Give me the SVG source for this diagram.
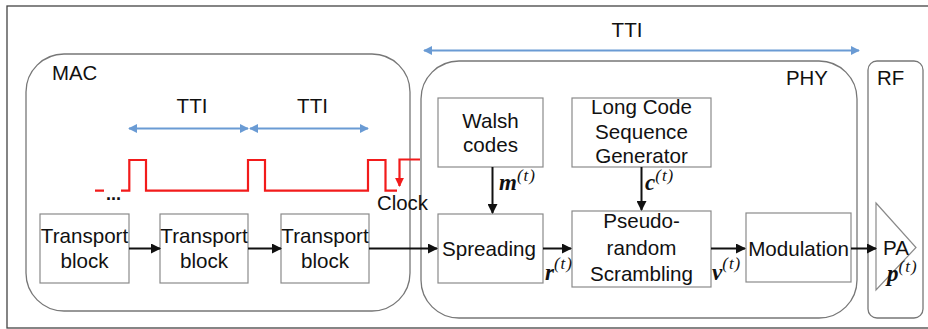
<svg xmlns="http://www.w3.org/2000/svg" width="928" height="329" viewBox="0 0 928 329">
<defs>
<style>
.t{font-family:"Liberation Sans",Arial,sans-serif;font-size:20.6px;fill:#111;text-anchor:middle}
.tl{font-family:"Liberation Sans",Arial,sans-serif;font-size:20.4px;fill:#111}
.box{fill:#fff;stroke:#8a8a8a;stroke-width:1.2}
.grp{fill:none;stroke:#777;stroke-width:1.3}
.blue{stroke:#6a9bd4;stroke-width:1.8;fill:none}
.blk{stroke:#111;stroke-width:2;fill:none}
.red{stroke:#f21b1b;stroke-width:2.2;fill:none}
.m{font-family:"Liberation Serif","DejaVu Serif",serif;font-style:italic;font-weight:bold;font-size:23px;fill:#111}
.s{font-size:17px;font-weight:normal;letter-spacing:1px}
</style>
<marker id="ab" viewBox="0 0 10 10" refX="9" refY="5" markerWidth="9" markerHeight="9" markerUnits="userSpaceOnUse" orient="auto-start-reverse"><path d="M0,0 L10,5 L0,10 z" fill="#6a9bd4"/></marker>
<marker id="ak" viewBox="0 0 10 10" refX="9" refY="5" markerWidth="10" markerHeight="10" markerUnits="userSpaceOnUse" orient="auto"><path d="M0,0 L10,5 L0,10 z" fill="#111"/></marker>
<marker id="ar" viewBox="0 0 10 10" refX="9" refY="5" markerWidth="9" markerHeight="9" markerUnits="userSpaceOnUse" orient="auto"><path d="M0,0 L10,5 L0,10 z" fill="#f21b1b"/></marker>
</defs>
<rect width="928" height="329" fill="#fff"/>
<rect x="7" y="6" width="935" height="322" fill="none" stroke="#444" stroke-width="1.3"/>

<g id="mac">
<rect class="grp" x="26" y="54" width="384" height="257" rx="38" ry="38"/>
<text class="tl" x="52" y="80">MAC</text>
</g>
<g id="phy">
<rect class="grp" x="421" y="61" width="436" height="257" rx="38" ry="38"/>
<text class="tl" x="786" y="85">PHY</text>
</g>
<g id="rf">
<rect class="grp" x="868" y="61" width="55" height="257" rx="9" ry="9"/>
<text class="tl" x="877" y="85">RF</text>
</g>

<g id="tti-top">
<line class="blue" x1="424" y1="50.5" x2="859" y2="50.5" marker-start="url(#ab)" marker-end="url(#ab)"/>
<text class="t" x="627" y="37">TTI</text>
</g>
<g id="tti-mac">
<line class="blue" x1="129" y1="128.5" x2="248" y2="128.5" marker-start="url(#ab)" marker-end="url(#ab)"/>
<line class="blue" x1="250" y1="128.5" x2="368" y2="128.5" marker-start="url(#ab)" marker-end="url(#ab)"/>
<text class="t" x="192" y="113">TTI</text>
<text class="t" x="312.5" y="113">TTI</text>
</g>

<g id="clock">
<path class="red" d="M95,190.7 H104 M121,190.7 H129.3 V160 H146 V190.7 H248 V160 H265 V190.7 H368 V160 H385.5 V190.7 H397"/>
<path class="red" d="M420,159.5 H399.5 V186" marker-end="url(#ar)"/>
<text class="tl" x="106" y="200" style="font-weight:bold;font-size:18px">...</text>
<text class="tl" x="377" y="210">Clock</text>
</g>

<g id="tb1"><rect class="box" x="40" y="214" width="89" height="69"/><text class="t" x="84.5" y="243">Transport</text><text class="t" x="84.5" y="268">block</text></g>
<g id="tb2"><rect class="box" x="160" y="214" width="88" height="69"/><text class="t" x="204" y="243">Transport</text><text class="t" x="204" y="268">block</text></g>
<g id="tb3"><rect class="box" x="281" y="214" width="88" height="69"/><text class="t" x="325" y="243">Transport</text><text class="t" x="325" y="268">block</text></g>

<g id="walsh"><rect class="box" x="438" y="98" width="105" height="69"/><text class="t" x="490.5" y="128">Walsh</text><text class="t" x="490.5" y="152">codes</text></g>
<g id="longcode"><rect class="box" x="572" y="98" width="139" height="69"/><text class="t" x="641.5" y="114">Long Code</text><text class="t" x="641.5" y="139">Sequence</text><text class="t" x="641.5" y="163">Generator</text></g>
<g id="spreading"><rect class="box" x="438" y="214" width="105" height="69"/><text class="t" x="489" y="256">Spreading</text></g>
<g id="scrambling"><rect class="box" x="572" y="211" width="139" height="76"/><text class="t" x="641.5" y="228">Pseudo-</text><text class="t" x="641.5" y="255">random</text><text class="t" x="641.5" y="281">Scrambling</text></g>
<g id="modulation"><rect class="box" x="746" y="213" width="105" height="69"/><text class="t" x="798.5" y="256">Modulation</text></g>
<g id="pa"><path d="M876,203 L916,247.5 L876,290 z" fill="#fff" stroke="#8a8a8a" stroke-width="1.2"/><text class="t" x="896" y="255">PA</text></g>

<g id="connectors">
<line class="blk" x1="129" y1="248.5" x2="160" y2="248.5" marker-end="url(#ak)"/>
<line class="blk" x1="248" y1="248.5" x2="281" y2="248.5" marker-end="url(#ak)"/>
<line class="blk" x1="369" y1="248.5" x2="437" y2="248.5" marker-end="url(#ak)"/>
<line class="blk" x1="492.5" y1="167" x2="492.5" y2="213" marker-end="url(#ak)"/>
<line class="blk" x1="641.5" y1="167" x2="641.5" y2="210" marker-end="url(#ak)"/>
<line class="blk" x1="543" y1="248.5" x2="571" y2="248.5" marker-end="url(#ak)"/>
<line class="blk" x1="711" y1="248.5" x2="745" y2="248.5" marker-end="url(#ak)"/>
<line class="blk" x1="851" y1="248.5" x2="876" y2="248.5" marker-end="url(#ak)"/>
<text class="m" x="499" y="190">m<tspan class="s" dy="-9">(t)</tspan></text>
<text class="m" x="645" y="190">c<tspan class="s" dy="-9">(t)</tspan></text>
<text class="m" x="545" y="280">r<tspan class="s" dy="-11">(t)</tspan></text>
<text class="m" x="712" y="280">v<tspan class="s" dy="-11">(t)</tspan></text>
<text class="m" x="887" y="281">p<tspan class="s" dy="-9">(t)</tspan></text>
</g>
</svg>
